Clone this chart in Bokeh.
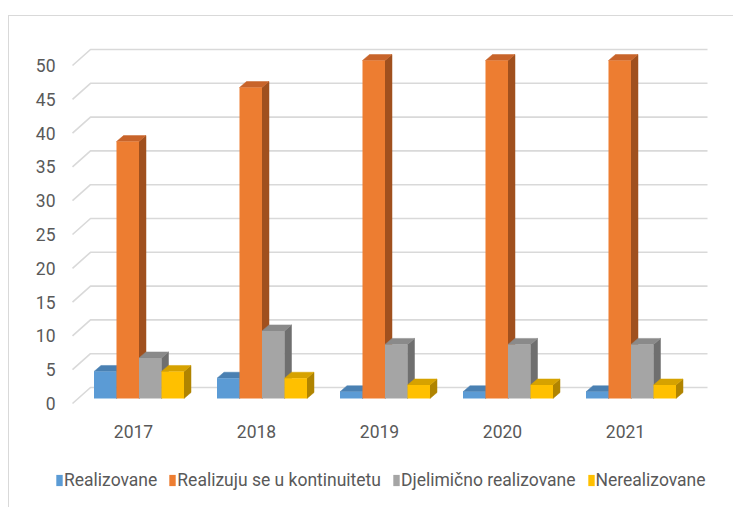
from bokeh.plotting import figure
from bokeh.models import Range1d, FixedTicker, Legend, LegendItem
from bokeh.embed import file_html
from bokeh.resources import INLINE

# ---------------- data ----------------
years = ["2017", "2018", "2019", "2020", "2021"]
series_names = ["Realizovane", "Realizuju se u kontinuitetu",
                "Djelimično realizovane", "Nerealizovane"]
realizovane = [4, 3, 1, 1, 1]
kontinuitet = [38, 46, 50, 50, 50]
djelimicno = [6, 10, 8, 8, 8]
nerealizovane = [4, 3, 2, 2, 2]
y_ticks = [0, 5, 10, 15, 20, 25, 30, 35, 40, 45, 50]

# ---------------- styles ----------------
front_colors = ["#5B9BD5", "#ED7D31", "#A5A5A5", "#FFC000"]
top_colors = ["#4A80B2", "#C8642A", "#8A8A8A", "#D6A200"]
side_colors = ["#3E6A94", "#A0501E", "#6F6F6F", "#B08400"]
FONT = "Roboto"
FSIZE = "17.5px"
TXT = "#595959"
GRID = "#D9D9D9"

W, H = 733, 507
XPX = 123.0     # pixels per category
YPX = 6.76      # pixels per value unit
X0_PX = 133.0   # pixel column of first category
Y0_PX = 403.0   # pixel row of value 0 (front edge of floor)
x_start = -X0_PX / XPX
x_end = (W - X0_PX) / XPX
y_start = -(H - Y0_PX) / YPX
y_end = Y0_PX / YPX


def px_x(v):
    return v / XPX


def px_y(v):
    return v / YPX


bar_w = px_x(22.5)
grp_off = px_x(5.5)
base = px_y(5)
ddx, ddy = px_x(7), px_y(6)
wall_left = px_x(72 - X0_PX)
wall_dx, wall_dy = px_x(18), px_y(16)
wall_right = px_x(707 - X0_PX)

p = figure(width=W, height=H, output_backend="svg", toolbar_location=None,
           x_range=Range1d(x_start, x_end), y_range=Range1d(y_start, y_end),
           min_border=0)
p.outline_line_color = None
p.xgrid.visible = False
p.ygrid.visible = False
p.background_fill_color = None
p.border_fill_color = None
# outer chart frame (light grey border, left and top edges visible)
p.styles = {
    "background": "linear-gradient(#D9D9D9, #D9D9D9) 8px 15px / 100% 1px no-repeat, "
                  "linear-gradient(#D9D9D9, #D9D9D9) 8px 15px / 1px 100% no-repeat, white"
}

# back wall gridlines with floor diagonals
gx, gy = [], []
for v in y_ticks:
    gx.append([wall_left, wall_left + wall_dx, wall_right])
    gy.append([v, v + wall_dy, v + wall_dy])
p.multi_line(gx, gy, line_color=GRID, line_width=1.6)

# bars
all_series = [realizovane, kontinuitet, djelimicno, nerealizovane]
renderers = []
for j, vals in enumerate(all_series):
    xl = [i + grp_off - 2 * bar_w + j * bar_w for i in range(len(years))]
    xr = [x + bar_w for x in xl]
    bot = [base] * len(vals)
    top = [base + v for v in vals]
    side_xs = [[r, r + ddx, r + ddx, r] for r in xr]
    side_ys = [[b, b + ddy, t + ddy, t] for b, t in zip(bot, top)]
    top_xs = [[l, l + ddx, r + ddx, r] for l, r in zip(xl, xr)]
    top_ys = [[t, t + ddy, t + ddy, t] for t in top]
    p.patches(side_xs, side_ys, fill_color=side_colors[j],
              line_color=side_colors[j], line_width=0.5)
    p.patches(top_xs, top_ys, fill_color=top_colors[j],
              line_color=top_colors[j], line_width=0.5)
    r = p.quad(left=xl, right=xr, bottom=bot, top=top,
               fill_color=front_colors[j], line_color=None)
    renderers.append(r)

# axes (drawn inside the plotting area at fixed positions)
p.yaxis.ticker = FixedTicker(ticks=y_ticks)
p.xaxis.ticker = FixedTicker(ticks=list(range(len(years))))
p.xaxis.major_label_overrides = {i: y for i, y in enumerate(years)}
for ax in (p.xaxis, p.yaxis):
    ax.axis_line_color = None
    ax.major_tick_line_color = None
    ax.minor_tick_line_color = None
    ax.major_tick_out = 0
    ax.major_tick_in = 0
    ax.major_label_text_font = FONT
    ax.major_label_text_font_size = FSIZE
    ax.major_label_text_color = TXT
p.yaxis.fixed_location = wall_left
p.yaxis.major_label_standoff = 17
p.xaxis.fixed_location = -px_y(7)
p.xaxis.major_label_standoff = 14

legend = Legend(
    items=[LegendItem(label=n, renderers=[r]) for n, r in zip(series_names, renderers)],
    location=(55, 17), orientation="horizontal", padding=0, margin=0,
    spacing=11, label_standoff=1, glyph_width=8, glyph_height=14,
    label_text_font=FONT, label_text_font_size=FSIZE, label_text_color=TXT,
    border_line_color=None, background_fill_alpha=0)
p.add_layout(legend)

open("out.html", "w").write(file_html(p, INLINE))
